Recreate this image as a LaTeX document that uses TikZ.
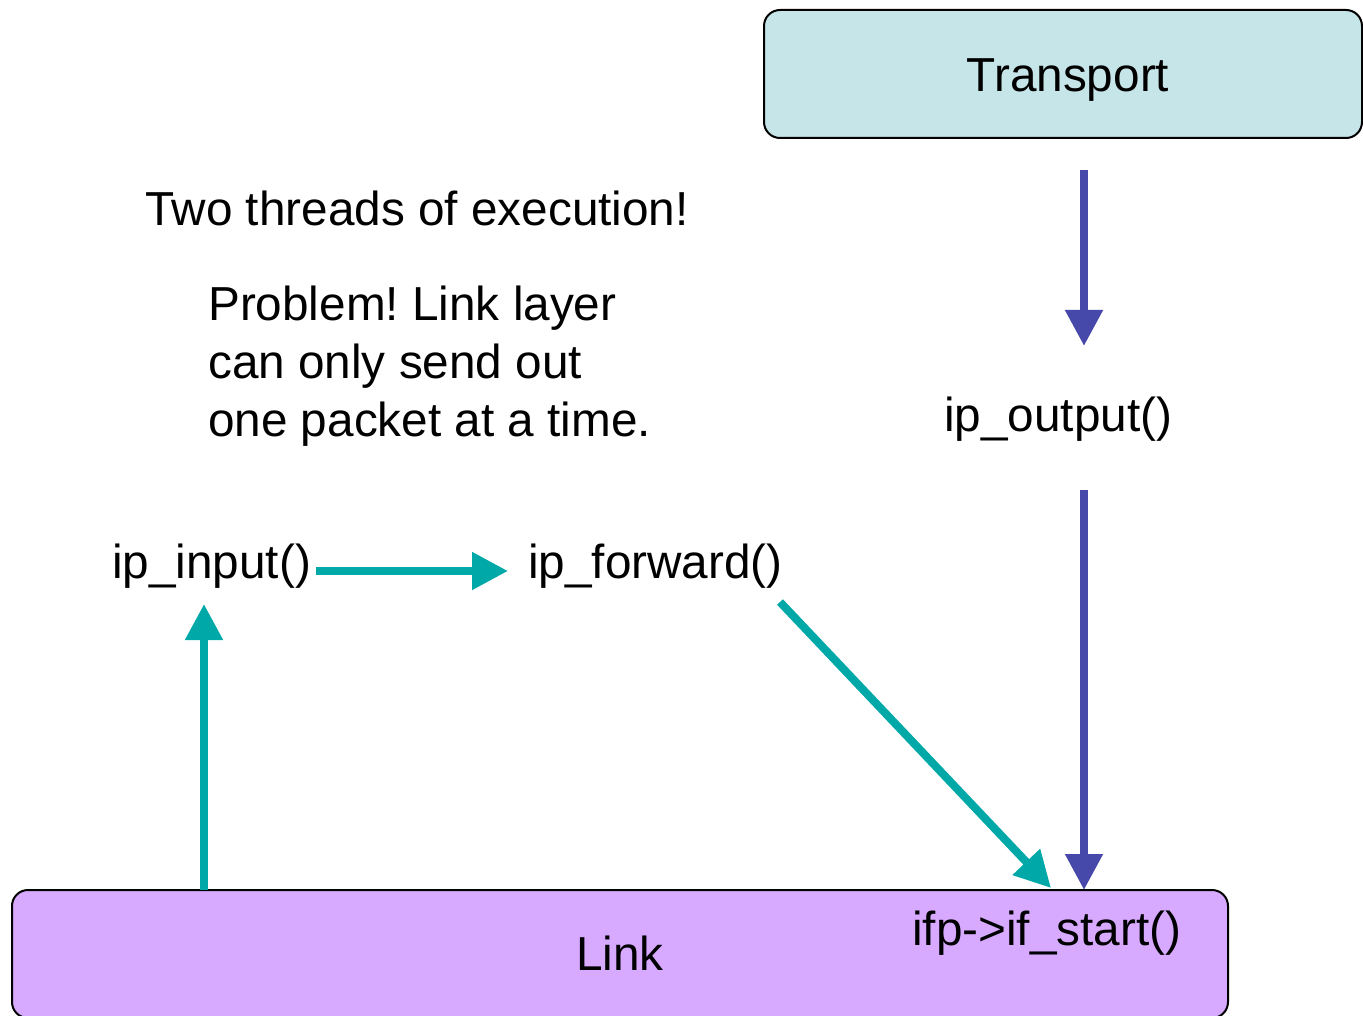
\documentclass[tikz,border=0pt]{standalone}
\usepackage{fontspec}
\setmainfont{Liberation Sans}
\usetikzlibrary{arrows.meta}
\frenchspacing

\definecolor{transportfill}{RGB}{198,229,232}
\definecolor{linkfill}{RGB}{215,170,255}
\definecolor{tealflow}{RGB}{0,168,168}
\definecolor{blueflow}{RGB}{70,73,170}

\tikzset{
  layerbox/.style={draw=black, line width=2pt, rounded corners=16pt, inner sep=0pt},
  txt/.style={inner sep=0pt, font=\fontsize{47.7}{58}\selectfont},
  flowarrow/.style={line width=8pt, -{Triangle[width=36pt,length=36pt]}},
  recvflow/.style={flowarrow, draw=tealflow, fill=tealflow},
  sendflow/.style={flowarrow, draw=blueflow, fill=blueflow},
}

\begin{document}
\begin{tikzpicture}[x=1pt, y=-1pt]
\useasboundingbox (0,0) rectangle (1363,1016);
\clip (0,0) rectangle (1363,1016);

% layer boxes
\node[layerbox, fill=transportfill, minimum width=598pt, minimum height=128pt,
      txt, text height=36pt, text depth=0pt, inner xsep=0pt] (transport) at (1063,74)
      {\hspace*{10pt}Transport};
\node[layerbox, fill=linkfill, minimum width=1216pt, minimum height=128pt,
      txt, text height=32pt, text depth=0pt] (link) at (620,954) {Link};

% annotations (a multi-line node sits on the baseline of its last line)
\node[txt, anchor=base west] (threads) at (145,226) {Two threads of execution!};
\node[txt, anchor=base west, align=left] (problem) at (208,436)
  {Problem! Link layer\\can only send out\\one packet at a time.};

% functions
\node[txt, anchor=base west] (ipout) at (944,431) {ip\_output()};
\node[txt, anchor=base west] (ipin) at (112,578) {ip\_input()};
\node[txt, anchor=base west] (ipfwd) at (528,578) {ip\_forward()};
\node[txt, anchor=base west] (ifstart) at (912,945) {ifp->if\_start()};

% connector ends
\coordinate (tOut) at (1084,170);
\coordinate (oIn) at (1084,346);
\coordinate (oOut) at (1084,490);
\coordinate (lSend) at (1084,890);
\coordinate (lRecv) at (204,890);
\coordinate (iIn) at (204,604);
\coordinate (iOut) at (316,571);
\coordinate (fIn) at (508,571);
\coordinate (fOut) at (780,602);
\coordinate (lFwd) at (1051,888);

% output thread
\draw[sendflow] (tOut) -- (oIn);
\draw[sendflow] (oOut) -- (lSend);

% input thread
\draw[recvflow] (lRecv) -- (iIn);
\draw[recvflow] (iOut) -- (fIn);
\draw[recvflow] (fOut) -- (lFwd);
\end{tikzpicture}
\end{document}
